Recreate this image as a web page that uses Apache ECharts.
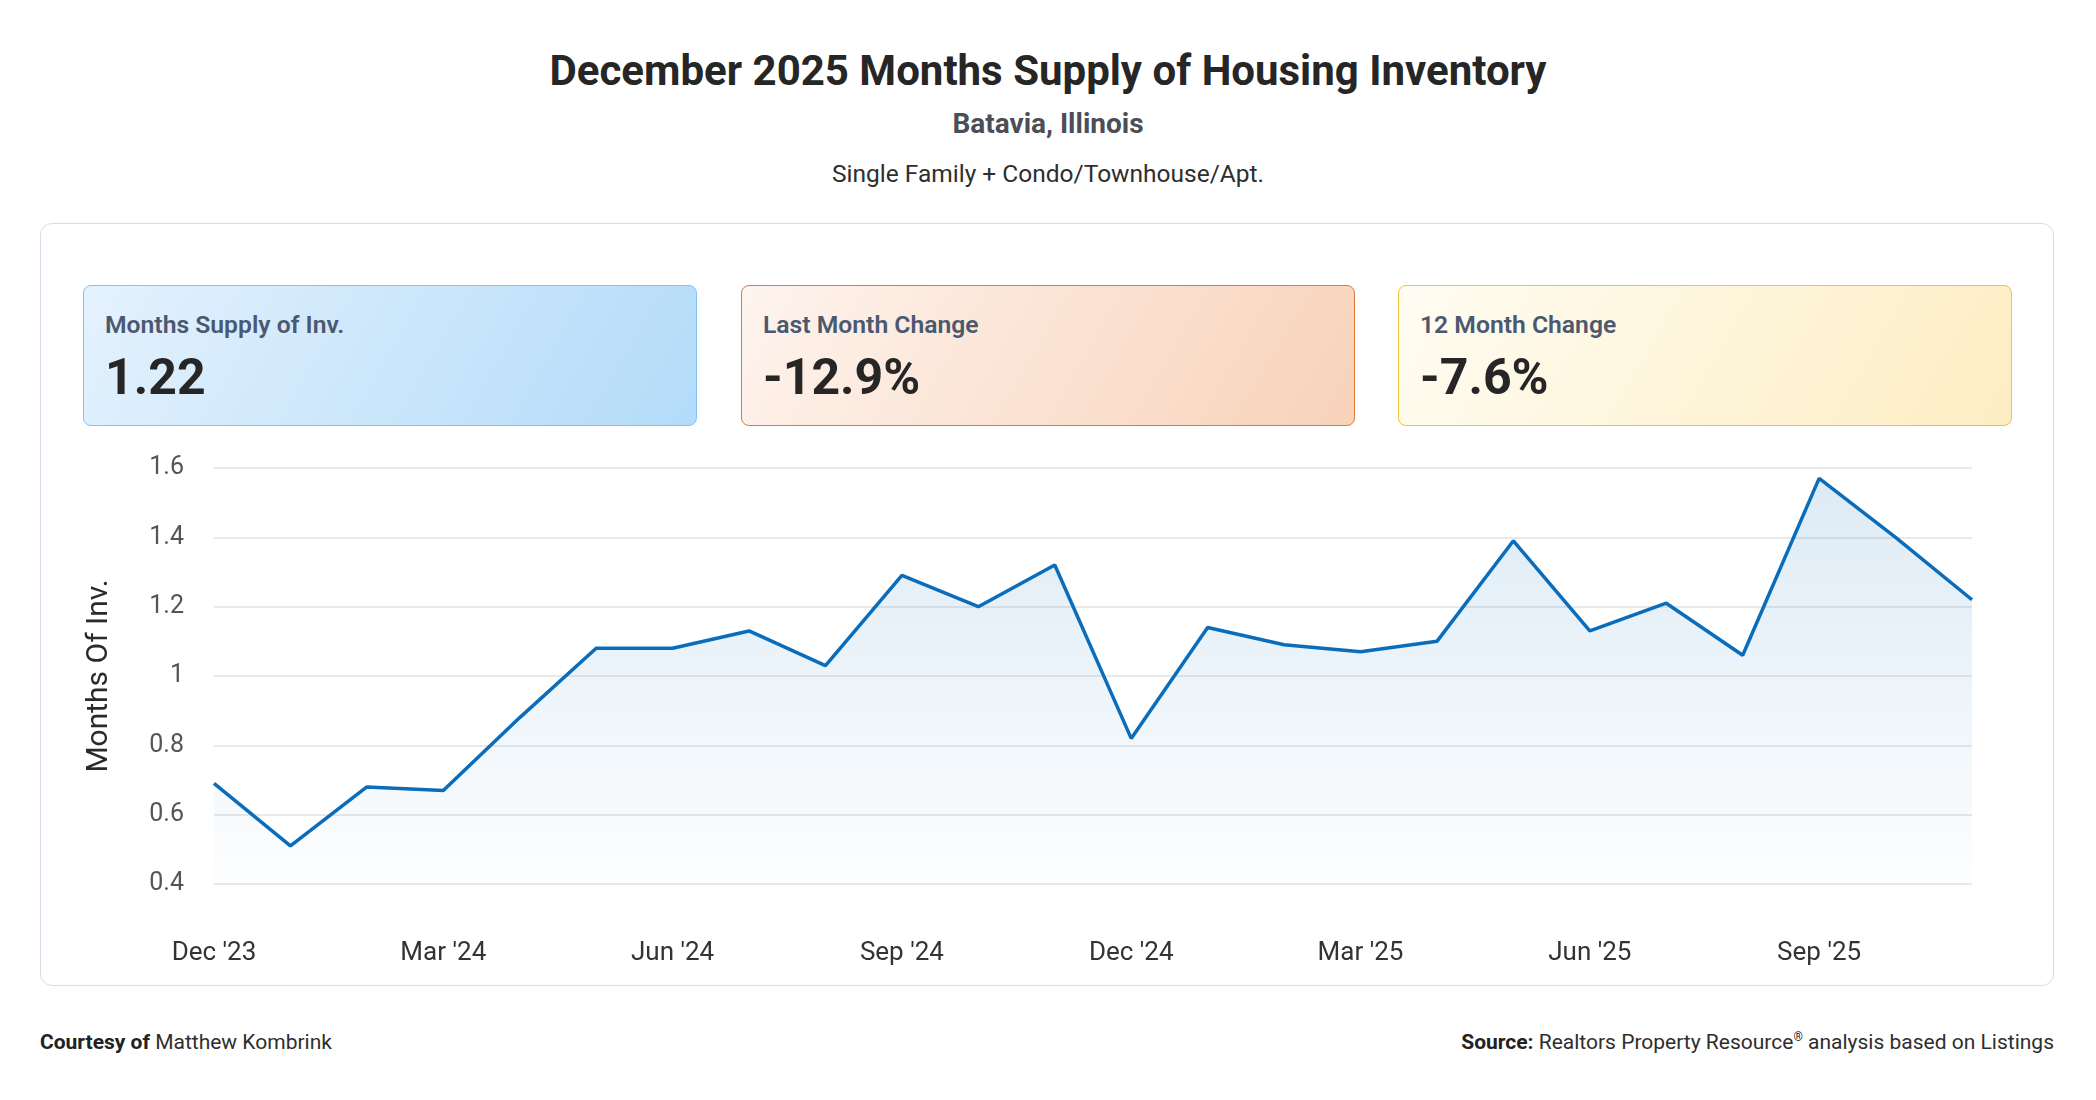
<!DOCTYPE html>
<html>
<head>
<meta charset="utf-8">
<script src="https://cdn.jsdelivr.net/npm/echarts@6/dist/echarts.min.js"></script>
<style>
  html, body { margin: 0; padding: 0; background: #fff; }
  body { width: 2096px; height: 1100px; position: relative; font-family: Roboto, "Noto Sans", sans-serif; overflow: hidden; }
  .t { position: absolute; left: 0; width: 2096px; text-align: center; white-space: nowrap; }
  #title { top: 49px; font-size: 42px; line-height: 44px; font-weight: 700; color: #262626; }
  #sub { top: 108px; font-size: 28px; line-height: 32px; font-weight: 700; color: #4b4e58; }
  #sub2 { top: 159px; font-size: 24.5px; line-height: 30px; color: #2e2e2e; }
  #panel { position: absolute; left: 40px; top: 223px; width: 2012px; height: 761px; border: 1px solid #d5dee8; border-radius: 12px; }
  .card { position: absolute; top: 285px; width: 614px; height: 141px; border: 1.5px solid; border-radius: 8px; box-sizing: border-box; }
  .card .lb { position: absolute; left: 21px; top: 24px; font-size: 24.7px; font-weight: 600; color: #4a5870; white-space: nowrap; }
  .card .vl { position: absolute; left: 21px; top: 62px; font-size: 50px; font-weight: 700; color: #262626; white-space: nowrap; }
  #c1 { left: 83px; border-color: #82c3ef; background: linear-gradient(120deg, #e4f2fd 0%, #b3dbf9 100%); }
  #c2 { left: 741px; border-color: #e0783a; background: linear-gradient(120deg, #fef4ee 0%, #f8d2b9 100%); }
  #c3 { left: 1398px; border-color: #f0c436; background: linear-gradient(120deg, #fffcf2 0%, #fdedc2 100%); }
  #main { position: absolute; left: 40px; top: 440px; width: 2014px; height: 546px; }
  .foot { position: absolute; top: 1029px; font-size: 21px; line-height: 26px; color: #2e2e2e; white-space: nowrap; }
  .foot b { font-weight: 700; color: #222; }
  .foot sup { font-size: 12px; line-height: 0; vertical-align: 8px; }
</style>
</head>
<body>
<div class="t" id="title">December 2025 Months Supply of Housing Inventory</div>
<div class="t" id="sub">Batavia, Illinois</div>
<div class="t" id="sub2">Single Family + Condo/Townhouse/Apt.</div>
<div id="panel"></div>
<div class="card" id="c1"><div class="lb">Months Supply of Inv.</div><div class="vl">1.22</div></div>
<div class="card" id="c2"><div class="lb">Last Month Change</div><div class="vl">-12.9%</div></div>
<div class="card" id="c3"><div class="lb">12 Month Change</div><div class="vl">-7.6%</div></div>
<div id="main"></div>
<div class="foot" style="left:40px;"><b>Courtesy of</b> Matthew Kombrink</div>
<div class="foot" style="right:42px;"><b>Source:</b> Realtors Property Resource<sup>®</sup> analysis based on Listings</div>

<script>
var months = ["Dec '23", "Jan '24", "Feb '24", "Mar '24", "Apr '24", "May '24", "Jun '24", "Jul '24",
  "Aug '24", "Sep '24", "Oct '24", "Nov '24", "Dec '24", "Jan '25", "Feb '25", "Mar '25", "Apr '25",
  "May '25", "Jun '25", "Jul '25", "Aug '25", "Sep '25", "Oct '25", "Nov '25"];
var supply = [0.69, 0.51, 0.68, 0.67, 0.88, 1.08, 1.08, 1.13, 1.03, 1.29, 1.20, 1.32,
  0.82, 1.14, 1.09, 1.07, 1.10, 1.39, 1.13, 1.21, 1.06, 1.57, 1.40, 1.22];
var yTicks = [0.4, 0.6, 0.8, 1, 1.2, 1.4, 1.6];

var chart = echarts.init(document.getElementById('main'));
var option = {
  animation: false,
  grid: { left: 174, right: 82, top: 28, bottom: 102 },
  xAxis: {
    type: 'category',
    data: months,
    boundaryGap: false,
    axisLine: { show: false },
    axisTick: { show: false },
    axisLabel: { interval: 2, margin: 56, fontSize: 26, color: '#333', fontFamily: 'Roboto' }
  },
  yAxis: {
    type: 'value',
    min: yTicks[0],
    max: yTicks[yTicks.length - 1],
    interval: 0.2,
    name: 'Months Of Inv.',
    nameLocation: 'middle',
    nameGap: 100,
    nameTextStyle: { fontSize: 30, color: '#2a2a2a', fontFamily: 'Roboto' },
    axisLabel: {
      margin: 30, fontSize: 25, color: '#555', fontFamily: 'Roboto',
      formatter: function (v) { return String(+v.toFixed(1)); }
    },
    splitLine: { lineStyle: { color: '#e2e2e2', width: 1.5 } }
  },
  series: [{
    type: 'line',
    data: supply,
    symbol: 'none',
    lineStyle: { color: '#0a6dbc', width: 3.5 },
    areaStyle: {
      color: new echarts.graphic.LinearGradient(0, 0, 0, 1, [
        { offset: 0, color: 'rgba(10,109,188,0.20)' },
        { offset: 1, color: 'rgba(10,109,188,0.01)' }
      ])
    }
  }]
};
chart.setOption(option);
</script>
</body>
</html>
